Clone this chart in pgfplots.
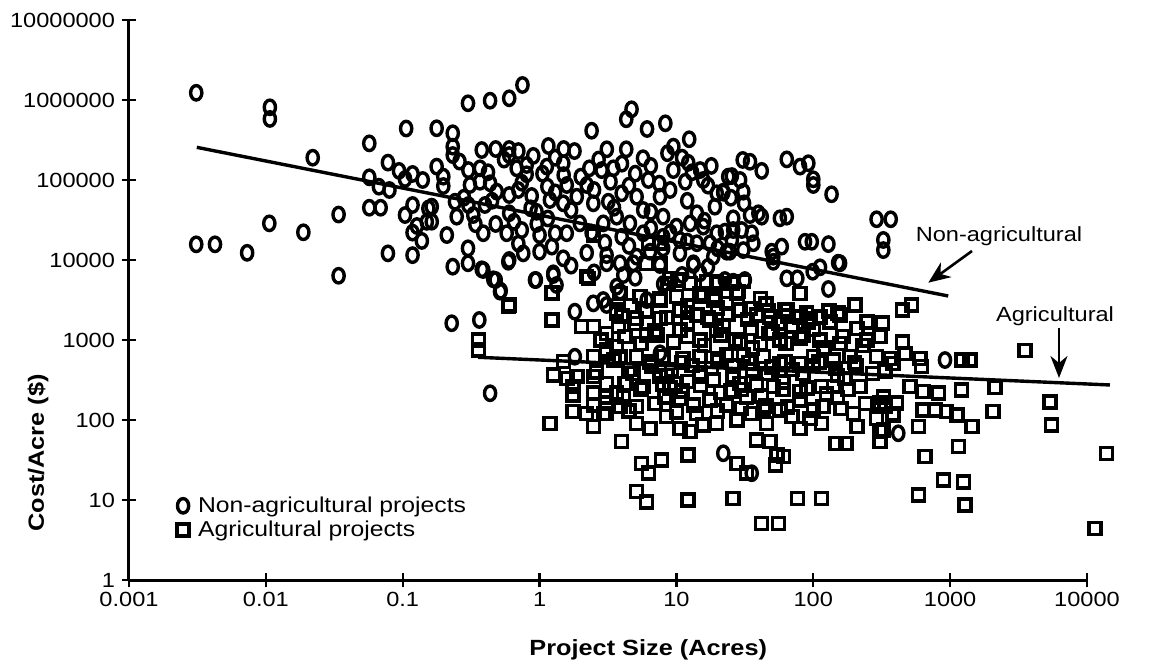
\documentclass[border=0pt]{standalone}
\usepackage{fontspec}
\setmainfont{Liberation Sans}[FakeStretch=1.15]
\usepackage{pgfplots}
\usepackage{pgfplotstable}
\pgfplotsset{compat=1.18}
\usetikzlibrary{arrows.meta}

% Non-agricultural projects: project size (acres) and cost per acre ($)
\pgfplotstableread{
acres cost
0.0031 1230000
0.0107 810000
0.0107 580000
0.106 440000
0.057 287000
0.022 190000
0.078 165000
0.094 130000
0.118 119000
0.104 103000
0.14 100000
0.057 108000
0.067 82500
0.080 75000
0.118 48700
0.057 45000
0.069 45000
0.034 37000
0.104 36500
0.0106 28700
0.0188 22200
0.127 26600
0.118 22000
0.138 17300
0.0031 15700
0.00425 15700
0.0073 12300
0.078 12100
0.118 11500
0.034 6350
0.154 44000
0.150 30000
0.30 910000
0.435 980000
0.60 1050000
0.75 1540000
0.177 443000
0.232 384000
0.232 261000
0.232 205000
2.4 413000
4.7 765000
4.3 574000
6.1 434000
8.3 511000
12.4 323000
9.5 261000
8.6 216000
3.1 242000
4.3 242000
5.7 187000
0.378 237000
0.478 244000
0.60 244000
0.70 230000
1.16 266000
1.5 244000
0.177 147000
0.198 110000
0.198 84100
0.302 133000
0.367 140000
0.367 95000
0.31 86600
0.435 91000
0.486 71400
0.805 154000
0.805 118000
0.741 92500
1.13 147000
1.14 82500
1.49 162000
1.5 115000
1.58 86600
0.60 205000
0.60 64900
0.60 38400
0.876 63100
0.86 44300
1.19 56200
1.49 51100
1.87 61800
2.21 86600
2.31 140000
2.84 133000
3.46 140000
2.47 51100
3.18 53500
3.98 68200
5.12 61800
6.23 100000
7.58 61800
9.5 133000
12.2 164000
14.9 133000
15.7 100000
11.6 95000
19.7 68200
22.0 71400
19.1 46400
23.9 110000
0.163 46400
0.163 30100
0.248 34800
0.328 36500
0.241 53500
0.302 48700
0.399 48700
0.21 20500
0.388 21600
0.478 28200
0.575 21600
0.741 23700
0.953 28200
1.0 20500
1.30 21600
1.58 21600
0.30 14000
0.30 9100
0.232 8250
0.388 7500
0.478 5620
0.52 4130
0.60 10000
0.76 12100
1.0 12700
1.23 14700
1.49 10500
1.26 6820
1.33 4870
0.94 5620
2.21 12300
3.09 11500
3.87 9100
5.12 11000
6.41 12700
8.0 14000
10.6 12100
13.3 9100
14.9 6820
18.6 11000
23.3 12700
1.97 28700
2.92 28700
3.66 34800
4.57 28700
5.72 42200
8.0 34800
10.0 26100
12.6 28700
15.7 26100
14.1 38400
19.7 21600
3.66 4640
4.09 6490
2.92 3160
6.06 3160
2.47 2870
3.98 19500
5.72 21600
8.0 19500
10.6 17800
14.1 16200
17.6 16200
30.5 178000
34.5 169000
42 130000
64 181000
80 147000
92 162000
100 102000
100 86600
136 66300
25.4 112000
29.2 100000
30.8 71400
22 69400
31.2 51100
26 33200
34.5 36500
39.7 38400
42 34800
57 33200
64 34800
22.6 22600
26 23700
30 23700
35.5 21600
25.4 17800
36.5 16200
30.8 13300
24.6 12700
49.7 12700
58.8 14700
51 9500
87 16900
97.5 16900
129 15800
152 9250
64 5900
76.5 5900
99 7140
112 8100
129 4340
290 32300
368 32300
325 17800
325 13300
22.6 5620
26 5350
31.6 5620
0.228 1620
0.363 1780
0.435 216
0.378 7650
0.459 5740
0.514 4020
0.591 9500
0.926 5620
1.26 6490
1.81 2260
3.09 2740
3.87 4020
1.81 618
3.09 9100
4.84 9100
7.58 8660
13.3 8660
157 9100
51 11000
22 38.4
35.5 21.6
917 562
418 68.2
7.58 682
0.26 170000
0.42 125000
0.55 180000
0.68 140000
0.9 200000
1.05 120000
1.3 190000
1.8 230000
2.0 110000
2.7 180000
3.3 95000
4.0 160000
5.0 120000
6.5 150000
7.5 90000
11 190000
13 125000
18 150000
0.28 60000
0.45 55000
0.7 75000
0.95 40000
1.3 70000
1.7 42000
2.5 75000
3.5 45000
4.5 85000
6.5 40000
9 75000
12 55000
17 85000
25 60000
0.34 28000
0.65 30000
1.15 33000
2.4 22000
3.0 16500
4.5 15000
6.5 25000
9 22000
12 17000
16 31000
20 14000
0.7 16000
1.7 8500
2.5 7000
5.0 6000
8.0 5000
11 6500
17 8200
}\nonag

% Agricultural projects: project size (acres) and cost per acre ($)
\pgfplotstableread{
acres cost
2.27 5900
1.23 3900
0.60 2740
2.47 20500
6.23 16200
7.58 16200
6.06 9100
7.58 9100
9.0 5900
10.3 5620
19.7 5350
7.58 3320
15.7 3480
18.6 3160
524 2740
450 2370
202 2740
246 1690
321 1620
152 2160
112 1950
80 3840
80 1950
62 2370
41 3320
34.5 2490
28.3 4020
28.3 2370
23.3 2870
48.3 1950
55.5 1620
92 1690
132 1690
0.591 2610
1.23 3840
1.23 1780
0.357 1000
0.357 750
2.03 1470
2.47 1470
3.76 1470
2.21 6180
3.66 2370
1.49 535
1.26 365
1.58 332
1.87 348
1.76 261
1.76 205
2.47 618
2.47 348
2.47 216
3.09 750
3.66 825
3.87 618
3.09 287
3.09 195
3.66 216
2.47 154
2.92 121
1.76 127
2.21 121
2.47 82.5
1.19 91
3.98 53.5
3.87 147
4.21 287
8.7 5110
10.3 5740
12.6 5110
16.6 5350
20.2 5110
25.4 5110
30.8 5350
3.87 3840
5.41 3480
7.58 3160
10.0 3480
14.9 3840
19.1 3320
27.6 3840
3.66 2160
5.12 1870
7.58 1870
10.6 2370
14.1 2050
17.6 1780
29.2 2370
38.6 2050
64 2370
89.5 2160
157 2050
3.09 1210
6.06 1150
10.6 1330
14.9 1000
19.7 1330
29.2 910
41 910
57 1000
80 1050
112 1000
157 910
208 1400
246 1000
307 1100
3.09 682
5.12 618
8.0 618
11.2 590
14.9 618
20.2 590
23.3 649
30.8 649
43.1 618
57 511
80 511
100 618
140 562
185 618
290 618
363 590
4.33 287
5.72 261
7.58 348
9.76 287
12.2 301
14.9 348
18.6 316
29.2 287
38.6 274
51 261
80 226
115 261
140 261
219 261
325 195
3.09 162
4.09 195
5.12 147
8.25 195
10.6 187
13.3 154
17.6 178
23.3 154
32.6 195
43.1 133
57 133
80 178
100 133
118 147
196 121
307 162
384 121
3.09 121
5.12 91
6.41 78.7
8.49 110
10.6 78.7
12.6 71.4
15.7 86.6
19.7 91
27.6 100
45.7 91
80 78.7
115 91
208 82.5
290 105
307 71.4
5.57 28.7
7.8 31.6
6.23 21.6
12.2 36.5
38.6 56.2
48.3 53.5
54.1 36.5
60.4 34.8
53 27.4
27.6 28.7
32.6 21.6
147 51.1
173 51.1
307 53.5
5.12 12.7
6.06 9.5
12.2 10
26 10.5
76.5 10.5
115 10.5
42 5.11
55.5 5.11
450 950
468 682
602 590
620 464
384 511
334 402
1220 562
1400 562
1210 237
2130 256
3520 734
509 261
636 226
819 216
636 133
775 133
940 127
1120 115
406 162
334 147
384 115
325 75
585 82.5
1440 82.5
2060 127
5360 169
5520 86.6
1150 46.4
655 34.8
891 17.8
1250 16.9
585 11.5
1280 8.66
13900 38.4
11400 4.43
4.5 430
6.6 470
9.2 420
13 480
18 440
26 470
36 420
50 460
70 430
100 480
145 440
205 470
5.0 1600
7.0 1300
12 1650
22 1500
35 1400
50 1250
70 1500
100 1350
4.6 2700
12 2650
20 2500
45 2800
35 120
65 145
150 190
9 250
25 230
60 300
170 330
240 160
2.8 1000
4.2 1100
5.5 900
7.2 1150
9.5 950
12 1100
16 850
21 1150
27 1000
36 800
47 1200
63 900
85 1150
120 800
165 1100
230 850
2.6 400
3.5 560
4.8 380
6.4 530
8.5 360
11 520
15 390
20 540
26 360
34 520
46 380
62 540
84 380
110 530
150 360
200 520
270 380
4.0 2000
6.0 2300
8.5 1900
12 2200
17 1900
24 2100
33 1800
47 2300
65 2000
95 1850
130 2300
5.5 240
8.0 280
11 230
15 270
21 220
30 240
42 200
60 240
90 250
125 210
180 240
4.5 130
7.0 160
10 125
14 120
20 130
30 140
45 150
70 110
95 105
160 140
}\agri

\begin{document}
\begin{tikzpicture}
\path[use as bounding box] (-129pt,-90pt) rectangle (1023pt,580pt);
\begin{axis}[
  at={(0pt,0pt)}, anchor=south west,
  scale only axis, width=958pt, height=560pt,
  xmode=log, ymode=log,
  xmin=0.001, xmax=10000, ymin=1, ymax=10000000,
  axis x line*=bottom, axis y line*=left,
  axis line style={line width=3pt, -},
  xtick={0.001,0.01,0.1,1,10,100,1000,10000},
  xticklabels={0.001,0.01,0.1,1,10,100,1000,10000},
  ytick={1,10,100,1000,10000,100000,1000000,10000000},
  yticklabels={1,10,100,1000,10000,100000,1000000,10000000},
  xminorticks=false, yminorticks=false,
  tick align=center, major tick length=15pt,
  every tick/.style={line width=2.4pt, black},
  /pgf/number format/assume math mode=true,
  ticklabel style={font=\fontsize{20.5}{24}\selectfont},
  xticklabel style={yshift=-1pt},
  yticklabel style={xshift=-3pt},
  clip=false,
  xlabel={Project Size (Acres)},
  ylabel={Cost/Acre (\$)},
  label style={font=\bfseries\fontsize{22}{26}\selectfont},
  xlabel style={at={(axis description cs:0.542,-0.125)}, anchor=center},
  ylabel style={at={(axis description cs:-0.095,0.227)}, anchor=center},
  legend style={draw=none, fill=none, at={(axis description cs:0.050,0.111)},
    anchor=west, font=\fontsize{21.5}{25}\selectfont, row sep=3pt,
    inner sep=0pt},
  legend cell align=left,
]
\addplot[only marks, mark=o, mark size=7.2pt,
  mark options={line width=3.4pt, xscale=0.78, black}]
  table[x=acres, y=cost] {\nonag};
\addplot[only marks, mark=square, mark size=6pt,
  mark options={line width=3.5pt, black}]
  table[x=acres, y=cost] {\agri};
\legend{\hspace{7pt}Non-agricultural projects, \hspace{7pt}Agricultural projects}
% fitted trend lines
\addplot[line width=3.4pt, no marks, forget plot]
  coordinates {(0.00313,256000) (968,3550)};
\addplot[line width=3.4pt, no marks, forget plot]
  coordinates {(0.356,608) (14720,274)};
\end{axis}
\node[font=\fontsize{20.5}{24}\selectfont] at (870pt,344pt) {Non-agricultural};
\draw[line width=2.6pt, -{Stealth[length=22pt,width=18pt,inset=7pt]}]
  (843pt,329pt) -- (799.3pt,297.3pt);
\node[font=\fontsize{20.5}{24}\selectfont] at (926pt,264pt) {Agricultural};
\draw[line width=2.6pt, -{Stealth[length=22pt,width=17pt,inset=7pt]}]
  (930pt,252pt) -- (930pt,202pt);
\end{tikzpicture}
\end{document}
